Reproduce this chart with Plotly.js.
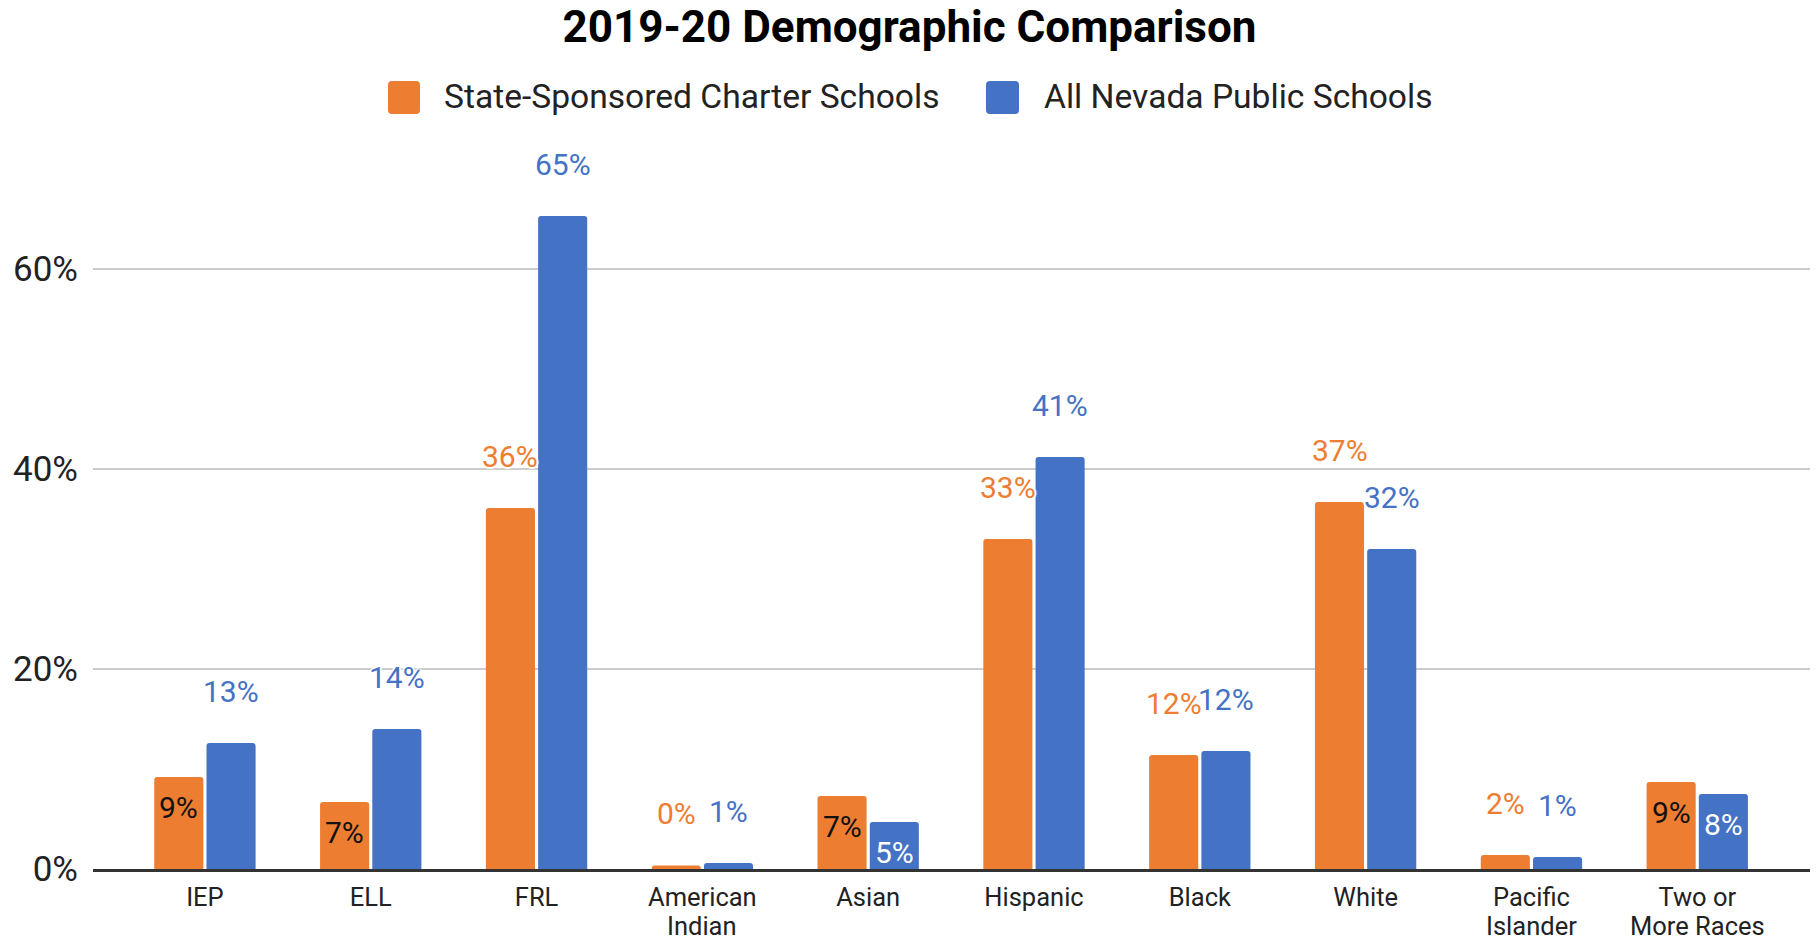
<!DOCTYPE html>
<html>
<head>
<meta charset="utf-8">
<script src="https://cdn.plot.ly/plotly-3.0.1.min.js"></script>
<style>
  html, body { margin: 0; padding: 0; background: #fff; }
  #chart { width: 1819px; height: 944px; }
</style>
</head>
<body>
<div id="chart"></div>
<script>
// ---- Data ----
const chartTitle = '2019-20 Demographic Comparison';
const seriesNames = ['State-Sponsored Charter Schools', 'All Nevada Public Schools'];
const seriesColors = ['#ED7D31', '#4472C4'];
const categoryLines = [['IEP'], ['ELL'], ['FRL'], ['American', 'Indian'], ['Asian'], ['Hispanic'], ['Black'], ['White'], ['Pacific', 'Islander'], ['Two or', 'More Races']];
const categories = categoryLines.map(l => l.join(' '));
const charterValues = [0.092, 0.067, 0.361, 0.0035, 0.073, 0.330, 0.114, 0.367, 0.014, 0.087];
const nevadaValues = [0.126, 0.140, 0.653, 0.006, 0.047, 0.412, 0.118, 0.320, 0.012, 0.075];
const charterLabels = ['9%', '7%', '36%', '0%', '7%', '33%', '12%', '37%', '2%', '9%'];
const nevadaLabels = ['13%', '14%', '65%', '1%', '5%', '41%', '12%', '32%', '1%', '8%'];
const charterInside = [true, true, false, false, true, false, false, false, false, true];
const nevadaInside = [false, false, false, false, true, false, false, false, false, true];
const yTickVals = [0, 0.2, 0.4, 0.6];
const yTickText = ['0%', '20%', '40%', '60%'];

// ---- Layout constants ----
const W = 1819, H = 944;
const M = { l: 93, r: 9, t: 119, b: 75 };
const PW = W - M.l - M.r, PH = H - M.t - M.b;
const BARGAP = 0.37;
const barOffset = (1 - BARGAP) / 4;
const FONT = 'Roboto, Arial, sans-serif';
const TICK_FONT = { family: FONT, size: 25.5, color: '#222222' };

const traces = [
  {
    type: 'bar', name: seriesNames[0], x: categories, y: charterValues,
    marker: { color: seriesColors[0], cornerradius: 3 },
    showlegend: false, hoverinfo: 'skip'
  },
  {
    type: 'bar', name: seriesNames[1], x: categories, y: nevadaValues,
    marker: { color: seriesColors[1], cornerradius: 3 },
    showlegend: false, hoverinfo: 'skip'
  }
];

const annotations = [];
const halo = '2px 0 1px #fff, -2px 0 1px #fff, 0 2px 1px #fff, 0 -2px 1px #fff';
function addLabels(values, labels, inside, sign, color, insideColor) {
  values.forEach((v, i) => {
    const ins = inside[i];
    annotations.push({
      x: i + sign * barOffset, y: v, xref: 'x', yref: 'y',
      text: labels[i], showarrow: false,
      xanchor: 'center', yanchor: 'middle',
      yshift: ins ? -30 : 52,
      font: { family: FONT, size: 30, color: ins ? insideColor : color, shadow: ins ? 'none' : halo }
    });
  });
}
addLabels(charterValues, charterLabels, charterInside, -1, seriesColors[0], '#111111');
addLabels(nevadaValues, nevadaLabels, nevadaInside, 1, seriesColors[1], '#ffffff');

// second lines of the two-line category labels (tighter line spacing than Plotly's <br>)
categoryLines.forEach((lines, i) => {
  if (lines.length > 1) {
    annotations.push({
      x: i, y: 0, xref: 'x', yref: 'paper',
      text: lines[1], showarrow: false, borderpad: 0,
      xanchor: 'center', yanchor: 'middle', yshift: -57,
      font: TICK_FONT
    });
  }
});

// custom legend (large rounded swatches), positions in page pixels
const px = x => (x - M.l) / PW;
const py = y => (H - M.b - y) / PH;
function roundRect(x0, y0, x1, y1, r) {
  const pts = [
    'M', px(x0 + r), py(y0),
    'L', px(x1 - r), py(y0), 'Q', px(x1), py(y0), px(x1), py(y0 + r),
    'L', px(x1), py(y1 - r), 'Q', px(x1), py(y1), px(x1 - r), py(y1),
    'L', px(x0 + r), py(y1), 'Q', px(x0), py(y1), px(x0), py(y1 - r),
    'L', px(x0), py(y0 + r), 'Q', px(x0), py(y0), px(x0 + r), py(y0), 'Z'
  ];
  let s = '';
  for (let i = 0; i < pts.length; i++) {
    const p = pts[i];
    if (typeof p === 'string') s += p; else s += p.toFixed(5) + (typeof pts[i + 1] === 'number' ? ',' : ' ');
  }
  return s;
}
const shapes = [];
const legendItems = [
  { sx0: 388, sx1: 420, tx: 442 },
  { sx0: 986, sx1: 1019, tx: 1042 }
];
legendItems.forEach((it, k) => {
  shapes.push({
    type: 'path', xref: 'paper', yref: 'paper',
    path: roundRect(it.sx0, 81, it.sx1, 114, 4),
    fillcolor: seriesColors[k], line: { width: 0 }, layer: 'above'
  });
  annotations.push({
    xref: 'paper', yref: 'paper',
    x: px(it.tx), y: py(97),
    xanchor: 'left', yanchor: 'middle', showarrow: false,
    text: seriesNames[k],
    font: { family: FONT, size: 33.6, color: '#222222' }
  });
});

const layout = {
  width: W, height: H,
  paper_bgcolor: '#ffffff', plot_bgcolor: '#ffffff',
  margin: M,
  title: {
    text: '<b>' + chartTitle + '</b>',
    xref: 'container', x: 0.5, xanchor: 'center',
    yref: 'container', y: 1 - 27 / H, yanchor: 'middle',
    font: { family: FONT, size: 44, color: '#000000' }
  },
  barmode: 'group', bargap: BARGAP, bargroupgap: 0.06,
  xaxis: {
    type: 'category', range: [-0.675, 9.68],
    tickmode: 'array', tickvals: categories, ticktext: categoryLines.map(l => l[0]),
    showgrid: false, zeroline: false,
    showline: true, linecolor: '#333333', linewidth: 3,
    ticks: '', ticklabelstandoff: 3,
    tickfont: TICK_FONT,
    fixedrange: true
  },
  yaxis: {
    range: [0, 0.75], tickvals: yTickVals, ticktext: yTickText,
    showgrid: true, gridcolor: '#cccccc', gridwidth: 2,
    zeroline: false, showline: false, ticks: '',
    ticklabelstandoff: 14,
    tickfont: { family: FONT, size: 35, color: '#222222' },
    fixedrange: true
  },
  showlegend: false,
  annotations: annotations,
  shapes: shapes
};

Plotly.newPlot('chart', traces, layout, { displayModeBar: false, staticPlot: true });
</script>
</body>
</html>
